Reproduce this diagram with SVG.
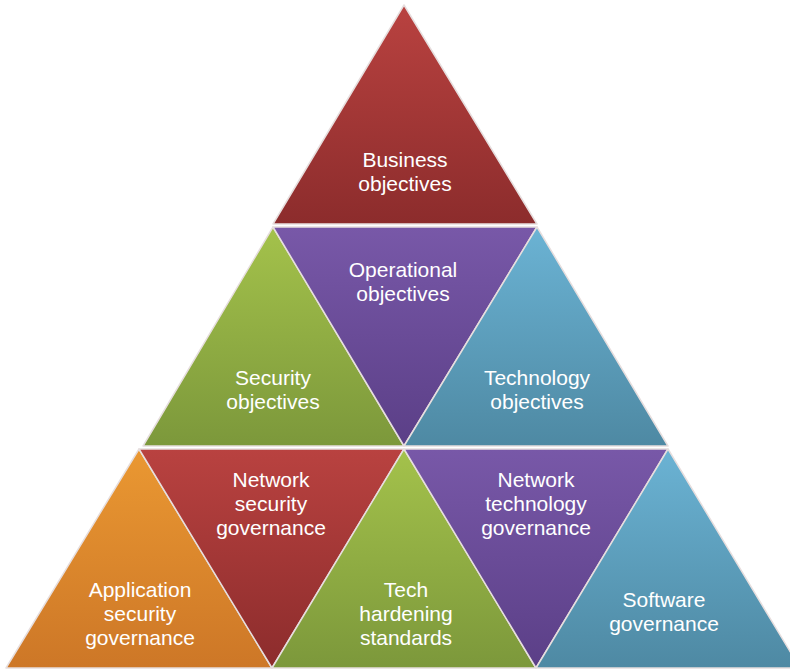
<svg xmlns="http://www.w3.org/2000/svg" width="790" height="669" viewBox="0 0 790 669">
<defs>
<linearGradient id="gRed" x1="0" y1="0" x2="0" y2="1"><stop offset="0" stop-color="#b94240"/><stop offset="1" stop-color="#8c2c2c"/></linearGradient>
<linearGradient id="gPurple" x1="0" y1="0" x2="0" y2="1"><stop offset="0" stop-color="#7858a8"/><stop offset="1" stop-color="#5b3f87"/></linearGradient>
<linearGradient id="gGreen" x1="0" y1="0" x2="0" y2="1"><stop offset="0" stop-color="#a4c24b"/><stop offset="1" stop-color="#7c983b"/></linearGradient>
<linearGradient id="gBlue" x1="0" y1="0" x2="0" y2="1"><stop offset="0" stop-color="#6bb3d4"/><stop offset="1" stop-color="#4e89a3"/></linearGradient>
<linearGradient id="gOrange" x1="0" y1="0" x2="0" y2="1"><stop offset="0" stop-color="#ea9832"/><stop offset="1" stop-color="#cd7727"/></linearGradient>
</defs>
<style>
.t{stroke:#e6dede;stroke-width:1.5;stroke-linejoin:round}
text{font-family:"Liberation Sans",Arial,sans-serif;font-size:21px;fill:#ffffff;text-anchor:middle}
</style>
<rect width="790" height="669" fill="#ffffff"/>
<g id="business">
<polygon class="t" points="404,5 537,224 273,224" fill="url(#gRed)"/>
<text x="405" y="167">Business</text><text x="405" y="191">objectives</text>
</g>
<g id="security">
<polygon class="t" points="273,227 404,446 143,446" fill="url(#gGreen)"/>
<text x="273" y="385">Security</text><text x="273" y="409">objectives</text>
</g>
<g id="operational">
<polygon class="t" points="273,227 537,227 404,446" fill="url(#gPurple)"/>
<text x="403" y="277">Operational</text><text x="403" y="301">objectives</text>
</g>
<g id="technology">
<polygon class="t" points="537,227 668,446 404,446" fill="url(#gBlue)"/>
<text x="537" y="385">Technology</text><text x="537" y="409">objectives</text>
</g>
<g id="application">
<polygon class="t" points="139,449 272,668 6,668" fill="url(#gOrange)"/>
<text x="140" y="597">Application</text><text x="140" y="621">security</text><text x="140" y="645">governance</text>
</g>
<g id="netsec">
<polygon class="t" points="139,449 404,449 272,668" fill="url(#gRed)"/>
<text x="271" y="487">Network</text><text x="271" y="511">security</text><text x="271" y="535">governance</text>
</g>
<g id="tech">
<polygon class="t" points="404,449 536,668 272,668" fill="url(#gGreen)"/>
<text x="406" y="597">Tech</text><text x="406" y="621">hardening</text><text x="406" y="645">standards</text>
</g>
<g id="nettech">
<polygon class="t" points="404,449 668,449 536,668" fill="url(#gPurple)"/>
<text x="536" y="487">Network</text><text x="536" y="511">technology</text><text x="536" y="535">governance</text>
</g>
<g id="software">
<polygon class="t" points="668,449 800,668 536,668" fill="url(#gBlue)"/>
<text x="664" y="607">Software</text><text x="664" y="631">governance</text>
</g>
<g id="connectors"/>
</svg>
